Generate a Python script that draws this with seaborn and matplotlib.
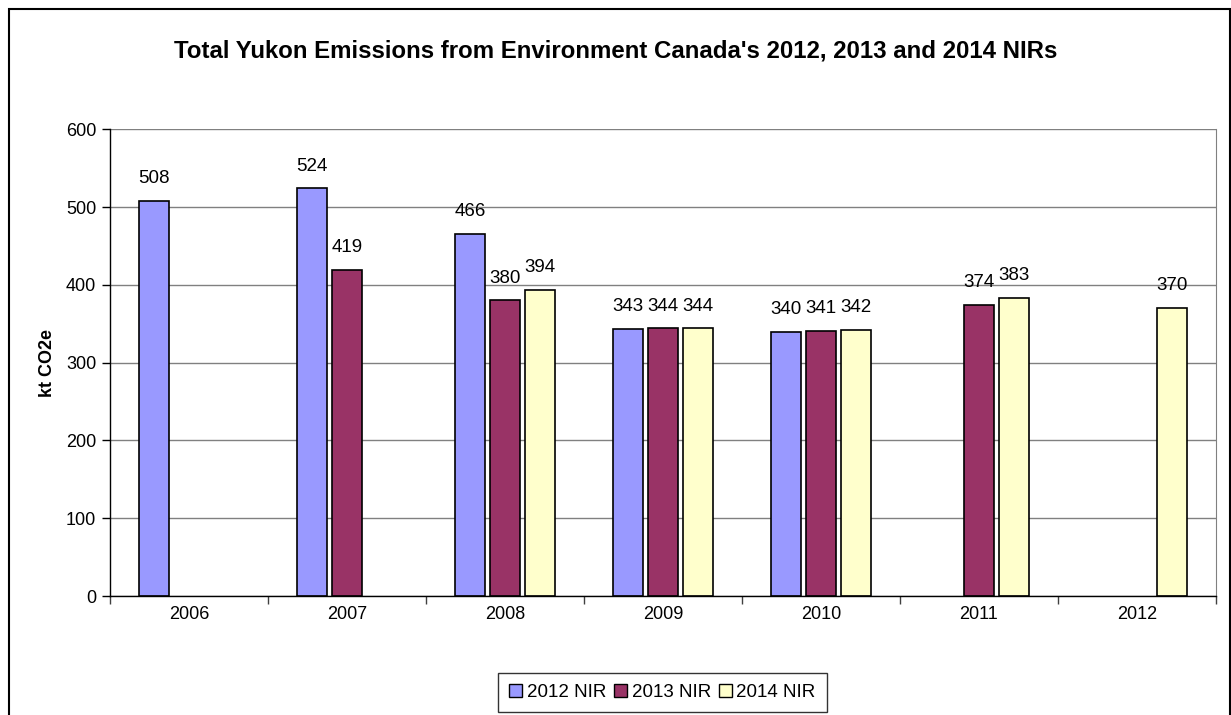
import numpy as np
import pandas as pd
import matplotlib
matplotlib.use("Agg")
import matplotlib.pyplot as plt
import matplotlib.patches as mpatches
import seaborn as sns

# data
years = ["2006", "2007", "2008", "2009", "2010", "2011", "2012"]
nir_2012 = [508, 524, 466, 343, 340, np.nan, np.nan]
nir_2013 = [np.nan, 419, 380, 344, 341, 374, np.nan]
nir_2014 = [np.nan, np.nan, 394, 344, 342, 383, 370]
series = ["2012 NIR", "2013 NIR", "2014 NIR"]
colors = ["#9999FF", "#993366", "#FFFFCC"]

df = pd.DataFrame({
    "year": years * 3,
    "report": np.repeat(series, len(years)),
    "kt": nir_2012 + nir_2013 + nir_2014,
})

sns.set_style("white")
plt.rcParams["font.family"] = ["Liberation Sans", "DejaVu Sans"]
plt.rcParams["text.color"] = "black"
plt.rcParams["xtick.color"] = "black"
plt.rcParams["ytick.color"] = "black"
plt.rcParams["axes.labelcolor"] = "black"

fig = plt.figure(figsize=(12.31, 7.15), dpi=100)
ax = fig.add_axes([0.0894, 0.1664, 0.8984, 0.6527])

sns.barplot(data=df, x="year", y="kt", hue="report", order=years,
            hue_order=series, palette=colors, width=0.665, gap=0.16,
            edgecolor="black", linewidth=1.2, ax=ax, saturation=1)

for c in ax.containers:
    ax.bar_label(c, fmt="%.0f", padding=10, fontsize=13.5)

ax.set_ylim(0, 600)
ax.set_xlim(-0.5, len(years) - 0.5)
ax.set_yticks(range(0, 601, 100))
ax.yaxis.grid(True, color="#808080", linewidth=1)
ax.set_axisbelow(True)

# category boundaries carry the tick marks
ax.set_xticks(np.arange(-0.5, len(years), 1), minor=True)
ax.tick_params(axis="x", which="major", length=0, pad=7, labelsize=13)
ax.tick_params(axis="x", which="minor", length=6, width=1, color="#404040",
               direction="out", bottom=True)
ax.tick_params(axis="y", length=6, width=1, color="black", direction="out",
               left=True, labelsize=13, pad=4)

for s in ["left", "bottom"]:
    ax.spines[s].set_color("black")
    ax.spines[s].set_linewidth(1)
ax.spines["top"].set_visible(False)
ax.spines["right"].set_color("#808080")

ax.set_xlabel("")
ax.set_ylabel("kt CO2e", fontsize=13, fontweight="bold", labelpad=7)

fig.text(0.5, 0.928, "Total Yukon Emissions from Environment Canada's 2012, 2013 and 2014 NIRs",
         ha="center", va="center", fontsize=17.3, fontweight="bold")

ax.get_legend().remove()
handles = [mpatches.Patch(facecolor=c, edgecolor="black", linewidth=1) for c in colors]
fig.legend(handles, series, loc="center", bbox_to_anchor=(0.5382, 0.0315), ncol=3,
           fontsize=13.5, frameon=True, fancybox=False, edgecolor="black",
           handlelength=0.7, handleheight=0.7, handletextpad=0.25, columnspacing=0.4,
           borderpad=0.6, borderaxespad=0)

# outer frame around the whole chart
fig.patches.append(mpatches.Rectangle((9 / 1231, -0.1), 1221 / 1231, 1.1 - 9 / 715,
                                      transform=fig.transFigure, fill=False,
                                      edgecolor="black", linewidth=1.5))

fig.savefig("out.png", dpi=100)
